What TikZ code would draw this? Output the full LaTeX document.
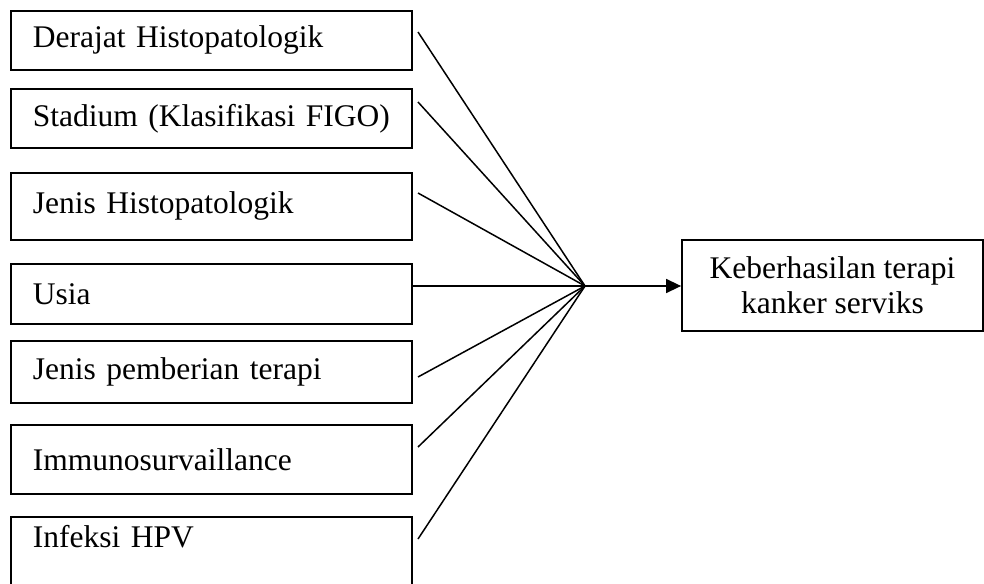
\documentclass[tikz,border=0pt]{standalone}
\usepackage{fontspec}
\setmainfont{Liberation Serif}
\usetikzlibrary{arrows.meta}

\begin{document}
\begin{tikzpicture}[x=1pt, y=-1pt,
	factor/.style={draw, line width=1.8pt, anchor=north west, minimum width=401pt, inner xsep=22pt, inner ysep=0pt, text width=357pt, align=left, font=\fontsize{31.5}{36}\selectfont},
	outcome/.style={draw, line width=1.8pt, minimum width=301pt, minimum height=91pt, inner sep=0pt, align=center, font=\fontsize{31.5}{35}\selectfont},
	link/.style={line width=1.5pt},
	]
					\useasboundingbox (0,0) rectangle (984,583);
					
					\node[factor, minimum height=59pt] (f1) at (10,10) {Derajat Histopatologik};
					\node[factor, minimum height=59pt] (f2) at (10,88) {Stadium (Klasifikasi FIGO)};
					\node[factor, minimum height=67pt] (f3) at (10,172) {Jenis Histopatologik};
					\node[factor, minimum height=60pt] (f4) at (10,263) {Usia};
					\node[factor, minimum height=62pt] (f5) at (10,340) {Jenis pemberian terapi};
					\node[factor, minimum height=69pt] (f6) at (10,424) {Immunosurvaillance};
					\node[factor, minimum height=70pt, text depth=30pt] (f7) at (10,516) {Infeksi HPV};
					
					\node[outcome] (out) at (832.5,285.5) {Keberhasilan terapi\\kanker serviks};
					
					\coordinate (hub) at (585,286);
					\coordinate (s1) at (418,32);
					\coordinate (s2) at (418,102);
					\coordinate (s3) at (418,193);
					\coordinate (s5) at (418,377);
					\coordinate (s6) at (418,447);
					\coordinate (s7) at (418,539);
					
					\draw[link] (s1) -- (hub);
					\draw[link] (s2) -- (hub);
					\draw[link] (s3) -- (hub);
					\draw[link] (f4.east |- hub) -- (hub);
					\draw[link] (s5) -- (hub);
					\draw[link] (s6) -- (hub);
					\draw[link] (s7) -- (hub);
					\draw[link, -{Triangle[length=15pt, width=14pt]}] (hub) -- (out.west |- hub);
					\end{tikzpicture}
\end{document}
